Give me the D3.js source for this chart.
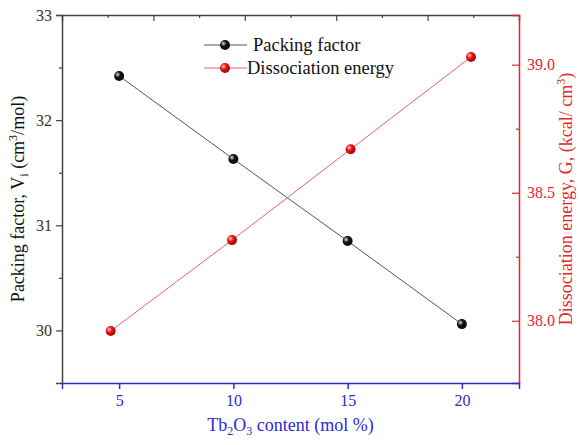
<!DOCTYPE html>
<html>
<head>
<meta charset="utf-8">
<script src="https://cdn.jsdelivr.net/npm/d3@7"></script>
<style>
  body { margin: 0; background: #fff; }
  svg text { font-family: "Liberation Serif", "Times New Roman", serif; }
</style>
</head>
<body>
<div id="chart"></div>
<script>
const packX = [5, 10, 15, 20];
const packY = [32.42, 31.63, 30.85, 30.06];
const dissX = [4.63, 9.94, 15.13, 20.4];
const dissY = [37.96, 38.315, 38.67, 39.03];
const xTicks = [5, 10, 15, 20];
const leftTicks = [30, 31, 32, 33];
const leftMinor = [30.5, 31.5, 32.5];
const rightTicks = [38.0, 38.5, 39.0];
const rightMinor = [38.25, 38.75];

const width = 580;
const height = 445;
const margin = { top: 15, right: 61, bottom: 62, left: 62 };
const serif = "Liberation Serif";

const blue = "#2b2bd6";
const red = "#e3262b";
const grey = "#444";

const svg = d3.select("#chart")
  .append("svg")
  .attr("width", width)
  .attr("height", height);

const x = d3.scaleLinear()
  .domain([2.5, 22.5])
  .range([margin.left, width - margin.right]);

const yL = d3.scaleLinear()
  .domain([29.5, 33])
  .range([height - margin.bottom, margin.top]);

const yR = d3.scaleLinear()
  .domain([37.757, 39.194])
  .range([height - margin.bottom, margin.top]);

// top axis: plain mirror frame with its own tick spacing
const xTop = d3.scaleLinear().domain([0, 10]).range(x.range());

const defs = svg.append("defs");
function ball(id, base, hi) {
  const g = defs.append("radialGradient").attr("id", id)
    .attr("cx", "35%").attr("cy", "35%").attr("r", "65%");
  g.append("stop").attr("offset", "0%").attr("stop-color", hi);
  g.append("stop").attr("offset", "45%").attr("stop-color", base);
  g.append("stop").attr("offset", "100%").attr("stop-color", d3.color(base).darker(1.2));
}
ball("gBlack", "#111", "#ddd");
ball("gRed", "#f01010", "#ffd0d0");

// top axis
const topAxis = svg.append("g")
  .attr("transform", `translate(0,${margin.top})`)
  .call(d3.axisTop(xTop).tickValues([2, 4, 6, 8]).tickSize(-6).tickFormat(""));
topAxis.select(".domain").attr("stroke", grey).attr("stroke-width", 1.5);
topAxis.selectAll(".tick line").attr("stroke", grey).attr("stroke-width", 1.2);
svg.append("g")
  .attr("transform", `translate(0,${margin.top})`)
  .call(d3.axisTop(xTop).tickValues([1, 3, 5, 7, 9]).tickSize(-3).tickFormat(""))
  .call(g => g.select(".domain").remove())
  .selectAll(".tick line").attr("stroke", grey).attr("stroke-width", 1.2);

// left axis
const leftAxis = svg.append("g")
  .attr("transform", `translate(${margin.left},0)`)
  .call(d3.axisLeft(yL).tickValues(leftTicks).tickSize(6).tickPadding(4)
    .tickFormat(d3.format("d")))
  .attr("font-family", serif)
  .attr("font-size", 16);
leftAxis.select(".domain").attr("stroke", grey).attr("stroke-width", 1.5);
leftAxis.selectAll(".tick line").attr("stroke", grey).attr("stroke-width", 1.2);
leftAxis.selectAll(".tick text").attr("fill", "#333");
svg.append("g")
  .attr("transform", `translate(${margin.left},0)`)
  .call(d3.axisLeft(yL).tickValues(leftMinor).tickSize(3).tickFormat(""))
  .call(g => g.select(".domain").remove())
  .selectAll(".tick line").attr("stroke", grey).attr("stroke-width", 1.2);

// right axis, ticks point inward
const rightAxis = svg.append("g")
  .attr("transform", `translate(${width - margin.right},0)`)
  .call(d3.axisRight(yR).tickValues(rightTicks).tickSize(-7).tickPadding(8)
    .tickFormat(d3.format(".1f")))
  .attr("font-family", serif)
  .attr("font-size", 16);
rightAxis.select(".domain").attr("stroke", red).attr("stroke-width", 1.5);
rightAxis.selectAll(".tick line").attr("stroke", red).attr("stroke-width", 1.2);
rightAxis.selectAll(".tick text").attr("fill", red);
svg.append("g")
  .attr("transform", `translate(${width - margin.right},0)`)
  .call(d3.axisRight(yR).tickValues(rightMinor).tickSize(-3).tickFormat(""))
  .call(g => g.select(".domain").remove())
  .selectAll(".tick line").attr("stroke", red).attr("stroke-width", 1.2);

// bottom axis
const bottomAxis = svg.append("g")
  .attr("transform", `translate(0,${height - margin.bottom})`)
  .call(d3.axisBottom(x).tickValues(xTicks).tickSize(6).tickPadding(6))
  .attr("font-family", serif)
  .attr("font-size", 16);
bottomAxis.select(".domain").attr("stroke", blue).attr("stroke-width", 1.5);
bottomAxis.selectAll(".tick line").attr("stroke", blue).attr("stroke-width", 1.5);
bottomAxis.selectAll(".tick text").attr("fill", blue);

// series lines
const packData = packX.map((d, i) => [d, packY[i]]);
const dissData = dissX.map((d, i) => [d, dissY[i]]);

svg.append("path")
  .datum(packData)
  .attr("fill", "none")
  .attr("stroke", "#555")
  .attr("stroke-width", 1)
  .attr("d", d3.line().x(d => x(d[0])).y(d => yL(d[1])));

svg.append("path")
  .datum(dissData)
  .attr("fill", "none")
  .attr("stroke", "#e0607a")
  .attr("stroke-width", 1)
  .attr("d", d3.line().x(d => x(d[0])).y(d => yR(d[1])));

svg.append("g").selectAll("circle")
  .data(packData)
  .join("circle")
  .attr("cx", d => x(d[0]))
  .attr("cy", d => yL(d[1]))
  .attr("r", 5)
  .attr("fill", "url(#gBlack)");

svg.append("g").selectAll("circle")
  .data(dissData)
  .join("circle")
  .attr("cx", d => x(d[0]))
  .attr("cy", d => yR(d[1]))
  .attr("r", 5)
  .attr("fill", "url(#gRed)");

// legend
const legend = svg.append("g");
const items = [
  { label: "Packing factor", line: "#555", fill: "url(#gBlack)", y: 45, tx: 253 },
  { label: "Dissociation energy", line: "#e0607a", fill: "url(#gRed)", y: 68, tx: 247 }
];
items.forEach(it => {
  legend.append("line")
    .attr("x1", 204).attr("x2", 247)
    .attr("y1", it.y).attr("y2", it.y)
    .attr("stroke", it.line).attr("stroke-width", 1);
  legend.append("circle")
    .attr("cx", 225).attr("cy", it.y).attr("r", 5)
    .attr("fill", it.fill);
  legend.append("text")
    .attr("x", it.tx).attr("y", it.y + 6)
    .attr("font-size", 18.5)
    .attr("fill", "#111")
    .text(it.label);
});

// axis titles
const midY = (margin.top + height - margin.bottom) / 2;

const lt = svg.append("text")
  .attr("transform", `translate(24,${midY}) rotate(-90)`)
  .attr("text-anchor", "middle")
  .attr("font-size", 18)
  .attr("fill", "#111");
lt.append("tspan").text("Packing factor, V");
lt.append("tspan").attr("font-size", 12).attr("dy", 4).text("i");
lt.append("tspan").attr("dy", -4).text(" (cm");
lt.append("tspan").attr("font-size", 12).attr("dy", -7).text("3");
lt.append("tspan").attr("dy", 7).text("/mol)");

const rt = svg.append("text")
  .attr("transform", `translate(572,${midY}) rotate(-90)`)
  .attr("text-anchor", "middle")
  .attr("font-size", 18)
  .attr("fill", red);
rt.append("tspan").text("Dissociation energy, G, (kcal/ cm");
rt.append("tspan").attr("font-size", 12).attr("dy", -7).text("3");
rt.append("tspan").attr("dy", 7).text(")");

const bt = svg.append("text")
  .attr("x", (margin.left + width - margin.right) / 2)
  .attr("y", 431)
  .attr("text-anchor", "middle")
  .attr("font-size", 18)
  .attr("fill", blue);
bt.append("tspan").text("Tb");
bt.append("tspan").attr("font-size", 12).attr("dy", 4).text("2");
bt.append("tspan").attr("dy", -4).text("O");
bt.append("tspan").attr("font-size", 12).attr("dy", 4).text("3");
bt.append("tspan").attr("dy", -4).text(" content (mol %)");
</script>
</body>
</html>
